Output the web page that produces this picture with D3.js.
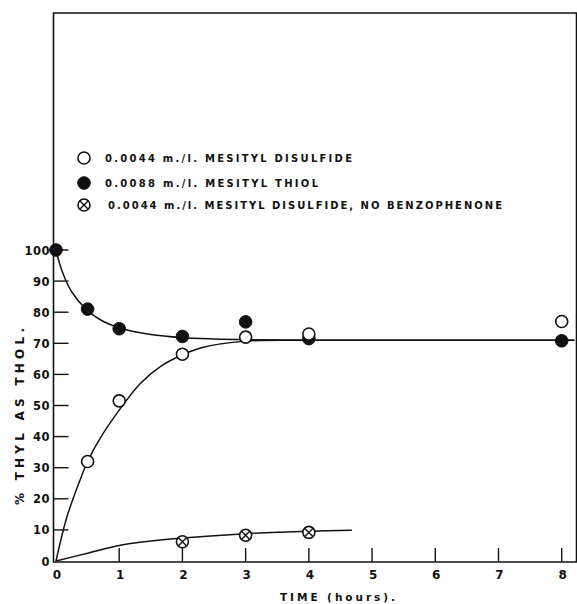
<!DOCTYPE html>
<html>
<head>
<meta charset="utf-8">
<script src="https://cdn.jsdelivr.net/npm/d3@7"></script>
<style>
  html, body { margin: 0; padding: 0; background: #fff; }
  svg { display: block; }
  text { font-family: "DejaVu Sans", sans-serif; fill: #111; }
</style>
</head>
<body>
<div id="chart"></div>
<script>
// measured points (time in hours, % as thiol)
var disulfideT = [0.5, 1, 2, 3, 4, 8];
var disulfideV = [32, 51.5, 66.5, 72, 73, 77];
var thiolT = [0, 0.5, 1, 2, 3, 4, 8];
var thiolV = [100, 81, 74.7, 72.2, 76.9, 71.5, 70.8];
var noBenzT = [2, 3, 4];
var noBenzV = [6.2, 8.3, 9.2];

// hand drawn fit curves
var disulfideCurveT = [0, 0.17, 0.38, 0.5, 0.7, 1, 1.33, 1.65, 2, 2.3, 3, 4, 6, 8.2];
var disulfideCurveV = [0, 14, 26, 32, 39.5, 48.5, 57, 62.5, 66.3, 68.6, 70.7, 71, 71, 71];
var thiolCurveT = [0, 0.1, 0.25, 0.5, 0.75, 1, 1.5, 2, 2.5, 3, 4, 6, 8.2];
var thiolCurveV = [100, 93, 86.5, 80.5, 77, 75, 72.8, 71.8, 71.4, 71.2, 71, 71, 71];
var noBenzCurveT = [0, 0.5, 1, 1.5, 2, 3, 4, 4.68];
var noBenzCurveV = [0, 2.5, 5, 6.4, 7.4, 8.8, 9.6, 9.9];

var xTicks = [0, 1, 2, 3, 4, 5, 6, 7, 8];
var yTicks = [0, 10, 20, 30, 40, 50, 60, 70, 80, 90, 100];

var legendLabels = [
    "0.0044  m./l.  MESITYL  DISULFIDE",
    "0.0088  m./l.  MESITYL  THIOL",
    "0.0044  m./l.  MESITYL  DISULFIDE,  NO  BENZOPHENONE"
];
var legendWidths = [247, 213, 394];

var W = 577, H = 604;
var svg = d3.select("#chart").append("svg")
    .attr("width", W)
    .attr("height", H);

var x = d3.scaleLinear().domain([0, 8]).range([56, 561.7]);
var y = d3.scaleLinear().domain([0, 100]).range([561, 250]);

var axisX = 53.5, axisY = 562, topY = 13, rightX = 576.5;

// frame
svg.append("path")
    .attr("d", `M${axisX},${axisY} L${axisX},${topY} L${rightX},${topY} L${rightX},${axisY} Z`)
    .attr("fill", "none")
    .attr("stroke", "#111")
    .attr("stroke-width", 1.6);

// y ticks point inward
svg.selectAll(".ytick")
    .data(yTicks.slice(1))
    .enter().append("line")
    .attr("class", "ytick")
    .attr("x1", axisX).attr("x2", axisX + 15)
    .attr("y1", function(d) { return y(d); })
    .attr("y2", function(d) { return y(d); })
    .attr("stroke", "#111").attr("stroke-width", 1.4);

svg.selectAll(".ylab")
    .data(yTicks)
    .enter().append("text")
    .attr("class", "ylab")
    .attr("x", 50)
    .attr("y", function(d) { return y(d) + 4.5; })
    .attr("text-anchor", "end")
    .style("font-size", "11.5px")
    .style("font-weight", "bold")
    .style("letter-spacing", "0.5px")
    .text(function(d) { return d; });

// x ticks point upward
svg.selectAll(".xtick")
    .data(xTicks.slice(1))
    .enter().append("line")
    .attr("class", "xtick")
    .attr("x1", function(d) { return x(d); })
    .attr("x2", function(d) { return x(d); })
    .attr("y1", axisY).attr("y2", axisY - 14)
    .attr("stroke", "#111").attr("stroke-width", 1.4);

svg.selectAll(".xlab")
    .data(xTicks)
    .enter().append("text")
    .attr("class", "xlab")
    .attr("x", function(d) { return x(d) + 1; })
    .attr("y", 579)
    .attr("text-anchor", "middle")
    .style("font-size", "12px")
    .style("font-weight", "bold")
    .text(function(d) { return d; });

// axis titles
svg.append("text")
    .attr("x", 280).attr("y", 601)
    .attr("textLength", 115).attr("lengthAdjust", "spacing")
    .style("font-size", "10.5px")
    .style("font-weight", "bold")
    .text("TIME  (hours).");

svg.append("text")
    .attr("transform", "translate(24,505) rotate(-90)")
    .attr("textLength", 177).attr("lengthAdjust", "spacing")
    .style("font-size", "12px")
    .style("font-weight", "bold")
    .text("%  THYL  AS  THOL.");

// curves
var line = d3.line()
    .x(function(d) { return x(d[0]); })
    .y(function(d) { return y(d[1]); })
    .curve(d3.curveCatmullRom.alpha(0.5));

[[disulfideCurveT, disulfideCurveV],
 [thiolCurveT, thiolCurveV],
 [noBenzCurveT, noBenzCurveV]].forEach(function(c) {
    svg.append("path")
        .datum(d3.zip(c[0], c[1]))
        .attr("d", line)
        .attr("fill", "none")
        .attr("stroke", "#111")
        .attr("stroke-width", 1.5);
});

// markers
function openMark(g) {
    g.append("circle").attr("r", 6)
        .attr("fill", "#fff").attr("stroke", "#111").attr("stroke-width", 1.6);
}
function filledMark(g) {
    g.append("circle").attr("r", 6.3)
        .attr("fill", "#111").attr("stroke", "#111").attr("stroke-width", 1);
}
function crossMark(g) {
    g.append("circle").attr("r", 6)
        .attr("fill", "#fff").attr("stroke", "#111").attr("stroke-width", 1.6);
    g.append("path").attr("d", "M-4,-4L4,4M4,-4L-4,4")
        .attr("stroke", "#111").attr("stroke-width", 1.4);
}

function drawPoints(ts, vs, mark) {
    svg.append("g").selectAll("g")
        .data(d3.zip(ts, vs))
        .enter().append("g")
        .attr("transform", function(d) { return `translate(${x(d[0])},${y(d[1])})`; })
        .each(function() { mark(d3.select(this)); });
}

drawPoints(thiolT, thiolV, filledMark);
drawPoints(disulfideT, disulfideV, openMark);
drawPoints(noBenzT, noBenzV, crossMark);

// legend
var legendY = [158, 183, 205];
var legendX = [105, 105, 108];
var legendMarks = [openMark, filledMark, crossMark];
legendLabels.forEach(function(label, i) {
    var g = svg.append("g").attr("transform", `translate(84,${legendY[i]})`);
    legendMarks[i](g);
    svg.append("text")
        .attr("x", legendX[i])
        .attr("y", legendY[i] + 3.8)
        .attr("textLength", legendWidths[i]).attr("lengthAdjust", "spacing")
        .style("font-size", "10px")
        .style("font-weight", "bold")
        .text(label);
});
</script>
</body>
</html>
